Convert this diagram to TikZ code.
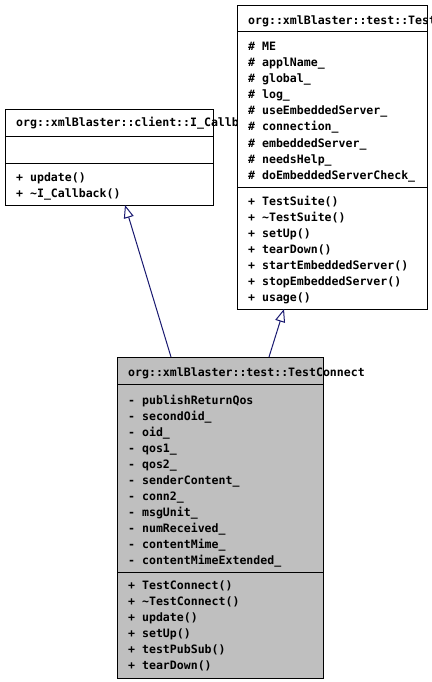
\documentclass[tikz,border=0pt]{standalone}
\usepackage{fontspec}
\setmonofont{DejaVu Sans Mono}
\usetikzlibrary{arrows.meta}
\definecolor{edgeblue}{RGB}{25,25,112}
\definecolor{boxgray}{RGB}{191,191,191}
\begin{document}
\begin{tikzpicture}[x=1bp,y=-1bp,
  umlbox/.style={draw=black, line width=1bp, fill=white, anchor=north west, inner sep=0pt},
  graybox/.style={umlbox, fill=boxgray},
  txt/.style={anchor=base west, inner sep=0pt, font=\fontsize{11.6}{14}\selectfont\ttfamily\bfseries},
  sep/.style={draw=black, line width=1bp},
  inherit/.style={draw=edgeblue, line width=1bp, -{Triangle[open, length=13bp, width=10bp]}}
]
\useasboundingbox (0,0) rectangle (431,682);

% I_Callback
\node[umlbox, minimum width=208bp, minimum height=96bp] (cb) at (5,109) {};
\node[txt] (cbt) at (16,127) {org::xmlBlaster::client::I\_Callback};
\draw[sep] ([yshift=-27bp]cb.north west) -- ([yshift=-27bp]cb.north east);
\draw[sep] ([yshift=-54bp]cb.north west) -- ([yshift=-54bp]cb.north east);
\node[txt] (cbm1) at (16,181) {+ update()};
\node[txt] (cbm2) at (16,197) {+ \textasciitilde I\_Callback()};

% TestSuite
\node[umlbox, minimum width=190bp, minimum height=304bp] (ts) at (237,5) {};
\node[txt] (tst) at (248,25) {org::xmlBlaster::test::TestSuite};
\draw[sep] ([yshift=-27bp]ts.north west) -- ([yshift=-27bp]ts.north east);
\draw[sep] ([yshift=-182bp]ts.north west) -- ([yshift=-182bp]ts.north east);
\node[txt] (tsa1) at (248,51) {\# ME};
\node[txt] (tsa2) at (248,67) {\# applName\_};
\node[txt] (tsa3) at (248,83) {\# global\_};
\node[txt] (tsa4) at (248,99) {\# log\_};
\node[txt] (tsa5) at (248,115) {\# useEmbeddedServer\_};
\node[txt] (tsa6) at (248,131) {\# connection\_};
\node[txt] (tsa7) at (248,147) {\# embeddedServer\_};
\node[txt] (tsa8) at (248,163) {\# needsHelp\_};
\node[txt] (tsa9) at (248,179) {\# doEmbeddedServerCheck\_};
\node[txt] (tsm1) at (248,205) {+ TestSuite()};
\node[txt] (tsm2) at (248,221) {+ \textasciitilde TestSuite()};
\node[txt] (tsm3) at (248,237) {+ setUp()};
\node[txt] (tsm4) at (248,253) {+ tearDown()};
\node[txt] (tsm5) at (248,269) {+ startEmbeddedServer()};
\node[txt] (tsm6) at (248,285) {+ stopEmbeddedServer()};
\node[txt] (tsm7) at (248,301) {+ usage()};

% TestConnect
\node[graybox, minimum width=206bp, minimum height=321bp] (tc) at (117,357) {};
\node[txt] (tct) at (128,376) {org::xmlBlaster::test::TestConnect};
\draw[sep] ([yshift=-27bp]tc.north west) -- ([yshift=-27bp]tc.north east);
\draw[sep] ([yshift=-215bp]tc.north west) -- ([yshift=-215bp]tc.north east);
\node[txt] (tca1) at (128,404) {- publishReturnQos};
\node[txt] (tca2) at (128,420) {- secondOid\_};
\node[txt] (tca3) at (128,436) {- oid\_};
\node[txt] (tca4) at (128,452) {- qos1\_};
\node[txt] (tca5) at (128,468) {- qos2\_};
\node[txt] (tca6) at (128,484) {- senderContent\_};
\node[txt] (tca7) at (128,500) {- conn2\_};
\node[txt] (tca8) at (128,516) {- msgUnit\_};
\node[txt] (tca9) at (128,532) {- numReceived\_};
\node[txt] (tca10) at (128,548) {- contentMime\_};
\node[txt] (tca11) at (128,564) {- contentMimeExtended\_};
\node[txt] (tcm1) at (128,589) {+ TestConnect()};
\node[txt] (tcm2) at (128,605) {+ \textasciitilde TestConnect()};
\node[txt] (tcm3) at (128,621) {+ update()};
\node[txt] (tcm4) at (128,637) {+ setUp()};
\node[txt] (tcm5) at (128,653) {+ testPubSub()};
\node[txt] (tcm6) at (128,669) {+ tearDown()};

% connectors
\coordinate (e1s) at (171,357);
\coordinate (e1t) at (125,205);
\coordinate (e2s) at (269,357);
\coordinate (e2t) at (284,309);
\draw[inherit] (e1s) -- (e1t);
\draw[inherit] (e2s) -- (e2t);
\end{tikzpicture}
\end{document}
